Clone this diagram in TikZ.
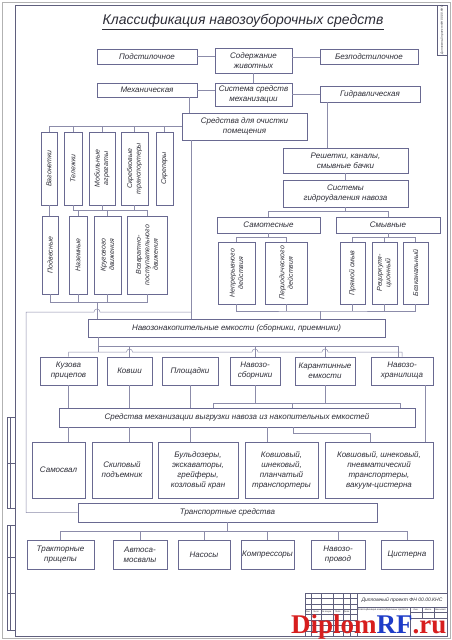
\documentclass[tikz,border=0pt]{standalone}
\usepackage{fontspec}
\setmainfont{Liberation Sans}
\newfontfamily\wmfont{Liberation Serif}
\usepackage{tikz}
\usetikzlibrary{calc}

\definecolor{framec}{RGB}{95,95,125}
\definecolor{boxc}{RGB}{105,105,145}
\definecolor{wirec}{RGB}{140,140,170}
\definecolor{textc}{RGB}{45,45,55}
\definecolor{wmred}{RGB}{215,30,30}
\definecolor{wmblue}{RGB}{30,60,200}

\tikzset{
  box/.style={draw=boxc, line width=0.6pt, inner sep=1pt, align=center, text=textc,
              font=\fontsize{8}{10}\selectfont\itshape},
  vbox/.style={box, rotate=90, font=\fontsize{7}{8.5}\selectfont\itshape},
  sz/.style 2 args={minimum width=#1pt, minimum height=#2pt},
  vsz/.style 2 args={minimum height=#1pt, minimum width=#2pt},
  wire/.style={draw=wirec, line width=0.5pt},
  tiny/.style={text=textc, inner sep=0pt, font=\fontsize{3}{3.5}\selectfont\itshape},
}

\begin{document}
\begin{tikzpicture}[x=1pt, y=-1pt]
\useasboundingbox (0,0) rectangle (452,640);
\fill[white] (0,0) rectangle (452,640);

% sheet frame
\draw[gray!60, line width=0.4pt] (2,2) rectangle (450,638);
\draw[framec, line width=0.9pt] (15,5) rectangle (447,636);
\draw[framec, line width=0.5pt] (7,417) rectangle (15,508) (7,463) -- (15,463) (10.5,417) -- (10.5,508);
\draw[framec, line width=0.5pt] (7,525) rectangle (15,630) (7,557) -- (15,557) (7,593) -- (15,593) (10.5,525) -- (10.5,630);
\draw[framec, line width=0.6pt] (437,5) rectangle (447,55);
\node (stp) [tiny, rotate=90] at (442,30) {Дипломный проект ФН 00.00.КНС};

% title block
\draw[framec, line width=0.6pt] (305,593) rectangle (447,636);
\draw[framec, line width=0.6pt] (357,593) -- (357,636) (357,607) -- (447,607) (410,607) -- (410,636);
\foreach \x in {311,321,333,343,350} \draw[framec, line width=0.3pt] (\x,593) -- (\x,636);
\foreach \y in {598.4,603.8,609.2,614.6,620,625.4,630.8} \draw[framec, line width=0.3pt] (305,\y) -- (357,\y);
\draw[framec, line width=0.3pt] (410,612) -- (447,612) (410,618) -- (447,618) (422,607) -- (422,618) (434,607) -- (434,618);
\node (dp) [tiny, font=\fontsize{5}{6}\selectfont\itshape] at (402,600) {Дипломный проект ФН 00.00.КНС};
\node (kl) [tiny, font=\fontsize{2.5}{3}\selectfont\itshape] at (383,610) {Классификация навозоуборочных средств};
\foreach \x/\t in {308/Изм., 316/Лист, 327/№ докум., 338/Подп., 346.5/Дата}
  \node [tiny, font=\fontsize{2.2}{2.5}\selectfont\itshape] at (\x,612) {\t};
\foreach \x/\t in {416/Лит., 428/Масса, 440.5/Масштаб}
  \node [tiny, font=\fontsize{2.2}{2.5}\selectfont\itshape] at (\x,609.5) {\t};

\node (ttl) [text=textc, inner sep=0pt, font=\fontsize{14}{16}\selectfont\itshape] at (243,21) {Классификация навозоуборочных средств};
\draw[textc, line width=0.7pt] ([yshift=-1.5pt]ttl.south west) -- ([yshift=-1.5pt]ttl.south east);

\node (Pod) [box, sz={100}{15}] at (147,56.5) {Подстилочное};
\node (Sod) [box, sz={77}{25}] at (253.5,60.5) {Содержание\\животных};
\node (Bez) [box, sz={98}{15}] at (369,57) {Безподстилочное};
\node (Meh) [box, sz={100}{14}] at (147,90) {Механическая};
\node (Sis) [box, sz={77}{23}] at (253.5,94.5) {Система средств\\механизации};
\node (Gid) [box, sz={100}{16}] at (370,94) {Гидравлическая};
\node (Och) [box, sz={125}{27}] at (244.5,126.5) {Средства для очистки\\помещения};
\node (Res) [box, sz={125}{25}] at (345.5,160.5) {Решетки, каналы,\\смывные бачки};
\node (Sgn) [box, sz={125}{27}] at (345.5,193.5) {Системы\\гидроудаления навоза};
\node (Sam) [box, sz={103}{16}] at (268.5,225) {Самотесные};
\node (Smy) [box, sz={104}{16}] at (388,225) {Смывные};

\node (Npr) [vbox, vsz={37}{62}] at (236.5,273) {Непрерывного\\действия};
\node (Per) [vbox, vsz={42}{62}] at (286,273) {Периодического\\действия};
\node (Prs) [vbox, vsz={25}{62}] at (352.5,273) {Прямой смыв};
\node (Rec) [vbox, vsz={25}{62}] at (384.5,273) {Рециркуля-\\ционный};
\node (Bzk) [vbox, vsz={25}{62}] at (415.5,273) {Безканальный};

\node (Vag) [vbox, vsz={16}{73}] at (49,168.5) {Вагонетки};
\node (Tel) [vbox, vsz={18}{73}] at (73,168.5) {Тележки};
\node (Mob) [vbox, vsz={26}{73}] at (102,168.5) {Мобильные\\агрегаты};
\node (Skr) [vbox, vsz={27}{73}] at (134.5,168.5) {Скребковые\\транспортеры};
\node (Skp) [vbox, vsz={17}{73}] at (164.5,168.5) {Скреперы};
\node (Pdv) [vbox, vsz={16}{78}] at (50,255) {Подвесные};
\node (Naz) [vbox, vsz={18}{78}] at (78,255) {Наземные};
\node (Krg) [vbox, vsz={27}{78}] at (107.5,255) {Кругового\\движения};
\node (Vzv) [vbox, vsz={40}{78}] at (147,255) {Возвратно-\\поступательного\\движения};

\node (Nak) [box, sz={297}{18}] at (236.5,328) {Навозонакопительные емкости (сборники, приемники)};

\node (Kuz) [box, sz={57}{28}] at (68.5,371) {Кузова\\прицепов};
\node (Kov) [box, sz={45}{28}] at (129.5,371) {Ковши};
\node (Plo) [box, sz={56}{28}] at (190,371) {Площадки};
\node (Nsb) [box, sz={50}{28}] at (255,371) {Навозо-\\сборники};
\node (Kar) [box, sz={60}{28}] at (325,371) {Карантинные\\емкости};
\node (Nhr) [box, sz={62}{28}] at (402,371) {Навозо-\\хранилища};

\node (Vyg) [box, sz={356}{19}] at (237,417.5) {Средства механизации выгрузки навоза из накопительных емкостей};

\node (Sams) [box, sz={53}{56}] at (58.5,470) {Самосвал};
\node (Skip) [box, sz={60}{56}] at (122,470) {Скиповый\\подъемник};
\node (Bul) [box, sz={80}{56}] at (198,470) {Бульдозеры,\\экскаваторы,\\грейферы,\\козловый кран};
\node (Kvs) [box, sz={73}{56}] at (281.5,470) {Ковшовый,\\шнековый,\\планчатый\\транспортеры};
\node (Kvp) [box, sz={108}{56}] at (379,470) {Ковшовый, шнековый,\\пневматический\\транспортеры,\\вакуум-цистерна};

\node (Tra) [box, sz={299}{19}] at (227.5,512.5) {Транспортные средства};

\node (Trp) [box, sz={67}{29}] at (60.5,554.5) {Тракторные\\прицепы};
\node (Avt) [box, sz={54}{29}] at (140,554.5) {Автоса-\\мосвалы};
\node (Nas) [box, sz={52}{29}] at (204,554.5) {Насосы};
\node (Kom) [box, sz={53}{29}] at (267.5,554.5) {Компрессоры};
\node (Npv) [box, sz={54}{29}] at (338,554.5) {Навозо-\\провод};
\node (Cis) [box, sz={52}{29}] at (407,554.5) {Цистерна};

% top part
\draw[wire] (Pod.east) -- (Pod.east -| Sod.west);
\draw[wire] (Bez.west) -- (Bez.west -| Sod.east);
\draw[wire] (Sod.south) -- (Sis.north);
\draw[wire] (Meh.east) -- (Meh.east -| Sis.west);
\draw[wire] (Gid.west) -- (Gid.west -| Sis.east);
\coordinate (m1) at ([xshift=8pt]Och.north west);
\draw[wire] (m1) -- (m1 |- Meh.south);
\coordinate (g1) at ([xshift=8pt]Gid.south west);
\draw[wire] (g1) -- (g1 |- Res.north);

% left group
\draw[wire] (Och.west) -| (Vag.east);
\foreach \n in {Tel,Mob,Skr,Skp} \draw[wire] (\n.east) -- (\n.east |- Och.west);
\coordinate (busA) at (0,210);
\draw[wire] (Vag.west) -- (Vag.west |- Pdv.east);
\draw[wire] (Tel.west) |- (busA -| Vzv.east) -- (Vzv.east);
\foreach \n in {Mob,Skr} \draw[wire] (\n.west) -- (\n.west |- busA);
\foreach \n in {Naz,Krg} \draw[wire] (\n.east) -- (\n.east |- busA);
\coordinate (busB) at (97,302);
\draw[wire] (Pdv.west) |- (busB -| Vzv.west) -- (Vzv.west);
\foreach \n in {Naz,Krg} \draw[wire] (\n.west) -- (\n.west |- busB);
\draw[wire] (busB) -- (busB |- Nak.north);

% bypass to transport
\coordinate (o1) at ([xshift=10pt]Och.south west);
\coordinate (o2) at (26,312);
\coordinate (h1) at (100,312);
\draw[wire] (o1) -- (o1 |- Nak.north);
\draw[wire] (o1 |- o2) -- (h1) arc[start angle=0, end angle=180, radius=3pt] -- (o2) |- (Tra.west);

% right group
\draw[wire] (Res.south) -- (Sgn.north);
\coordinate (busC) at ($(Sgn.south)+(0,4)$);
\draw[wire] (Sgn.south) -- (busC);
\draw[wire] (Sam.north) |- (busC) -| (Smy.north);
\coordinate (busD) at ($(Sam.south)+(0,4)$);
\draw[wire] (Sam.south) -- (busD);
\draw[wire] (Npr.east) |- (busD) -| (Per.east);
\coordinate (busE) at ($(Smy.south)+(0,4)$);
\draw[wire] (Smy.south) -- (busE);
\draw[wire] (Prs.east) |- (busE) -| (Bzk.east);
\draw[wire] (Rec.east) -- (Rec.east |- busE);
\coordinate (busF) at (320,311);
\draw[wire] (Npr.west) |- (busF) -| (Bzk.west);
\foreach \n in {Per,Prs,Rec} \draw[wire] (\n.west) -- (\n.west |- busF);
\draw[wire] (busF) -- (busF |- Nak.north);

% storages
\coordinate (busG) at (98,346);
\coordinate (busK) at (98,352);
\draw[wire] (busG |- Nak.south) -- (busK);
\draw[wire] (busG) -| ([xshift=-4pt]Nhr.north);
\draw[wire] (Kuz.north) |- (busK)
  -- ($(Kov.north |- busK)-(3,0)$) arc[start angle=180, end angle=0, radius=3pt]
  -- ($(Nsb.north |- busK)-(3,0)$) arc[start angle=180, end angle=0, radius=3pt]
  -- ($(Kar.north |- busK)-(3,0)$) arc[start angle=180, end angle=0, radius=3pt]
  -| (Nhr.north);
\foreach \n in {Kov,Nsb,Kar} \draw[wire] (\n.north) -- (\n.north |- busG);

% unloading
\foreach \n/\m in {Kuz/Sams, Kov/Skip, Plo/Bul} {
  \draw[wire] (\n.south) -- (\n.south |- Vyg.north);
  \draw[wire] (\n.south |- Vyg.south) -- (\n.south |- \m.north);
}
\coordinate (busH) at (292,403);
\coordinate (h2) at (213,403);
\coordinate (h3) at (400,403);
\draw[wire] (Nsb.south) -- (Nsb.south |- busH);
\draw[wire] (Kar.south) -- (Kar.south |- busH);
\draw[wire] (h2 |- Vyg.north) -- (h2) -- (h3) -- (h3 |- Vyg.north);
\draw[wire] (busH) -- (busH |- Vyg.north);
\coordinate (r1) at ([xshift=-8pt]Nhr.south east);
\draw[wire] (r1) -- (r1 |- Kvp.north);
\coordinate (v1) at (267,433);
\draw[wire] (v1 |- Vyg.south) -- (v1 |- Kvs.north);
\coordinate (v2) at (293,433);
\coordinate (v3) at (370,433);
\draw[wire] (v2 |- Vyg.south) -- (v2) -- (v3) -- (v3 |- Kvp.north);

% transport
\coordinate (busT) at ($(Tra.south)+(0,9)$);
\draw[wire] (Tra.south) -- (busT);
\draw[wire] (Trp.north) |- (busT) -| (Cis.north);
\foreach \n in {Avt,Nas,Kom,Npv} \draw[wire] (\n.north) -- (\n.north |- busT);

\node (wm) [anchor=base west, inner sep=0pt, font=\wmfont\bfseries\fontsize{27}{27}\selectfont] at (291,633)
  {\textcolor{wmred}{Diplom}\textcolor{wmblue}{RF}\textcolor{wmred}{.ru}};
\end{tikzpicture}
\end{document}
